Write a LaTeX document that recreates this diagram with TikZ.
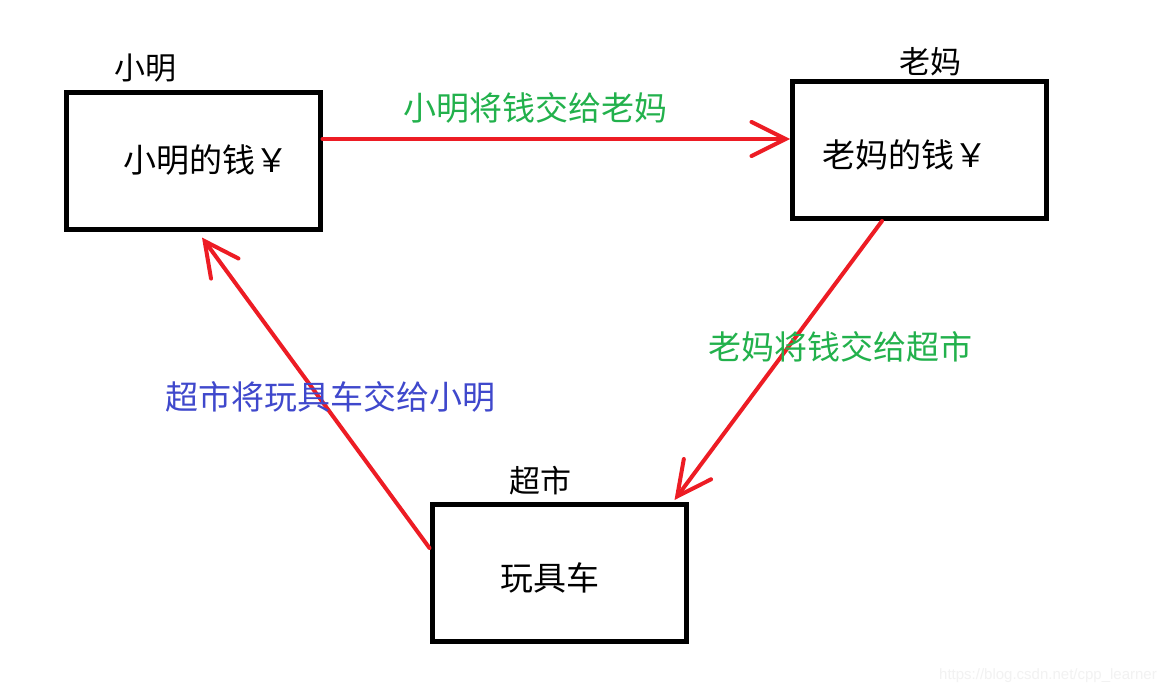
\documentclass[tikz,border=0pt]{standalone}
\usepackage{fontspec}
\setmainfont{Liberation Sans}
\newfontfamily\cjk{Noto Sans CJK SC}
\usetikzlibrary{arrows.meta}
\definecolor{pred}{RGB}{237,28,36}
\definecolor{pgreen}{RGB}{34,177,76}
\definecolor{pblue}{RGB}{63,72,204}
\tikzset{
  box/.style={draw=black, line width=5pt, minimum width=254pt, minimum height=137pt, inner sep=0pt},
  cn/.style={font=\cjk\fontsize{33}{38}\selectfont, inner sep=0pt},
  tag/.style={font=\cjk\fontsize{31}{36}\selectfont, inner sep=0pt},
  flow/.style={draw=pred, line width=4pt, line cap=round,
    -{Straight Barb[length=34pt, width=34pt, line cap=round]}},
  glabel/.style={font=\cjk\fontsize{33}{38}\selectfont, text=pgreen, inner sep=0pt},
  blabel/.style={font=\cjk\fontsize{33}{38}\selectfont, text=pblue, inner sep=0pt},
}
\begin{document}
\begin{tikzpicture}[x=1pt, y=-1pt]
\useasboundingbox (0,0) rectangle (1169,694);
\fill[white] (0,0) rectangle (1169,694);
% boxes
\node[box] (xm) at (193,160.5) {};
\node[box] (lm) at (919.5,150) {};
\node[box] (cs) at (559,573) {};
% texts in boxes
\node[cn] (xmt) at (206,160) {小明的钱￥};
\node[cn] (lmt) at (905,155) {老妈的钱￥};
\node[cn] (cst) at (550,578) {玩具车};
% labels above boxes
\node[tag] (xml) at (145,68) {小明};
\node[tag] (lml) at (930,62) {老妈};
\node[tag] (csl) at (540,481) {超市};
% connectors
\draw[flow] ([yshift=21.5pt]xm.east) -- ([yshift=11pt]lm.west);
\draw[flow] ([xshift=-37.5pt]lm.south) -- ([xshift=-14pt,yshift=2pt]cs.north east);
\draw[flow] ([yshift=25pt]cs.west) -- ([xshift=9pt,yshift=-6pt]xm.south);
% connector labels
\node[glabel] (g1) at (535,108) {小明将钱交给老妈};
\node[glabel] (g2) at (840,347) {老妈将钱交给超市};
\node[blabel] (b1) at (330,397) {超市将玩具车交给小明};
% watermark
\node[font=\fontsize{15}{18}\selectfont, text=black!5, inner sep=0pt] (wm) at (1048,676) {https://blog.csdn.net/cpp\_learner};
\end{tikzpicture}
\end{document}
